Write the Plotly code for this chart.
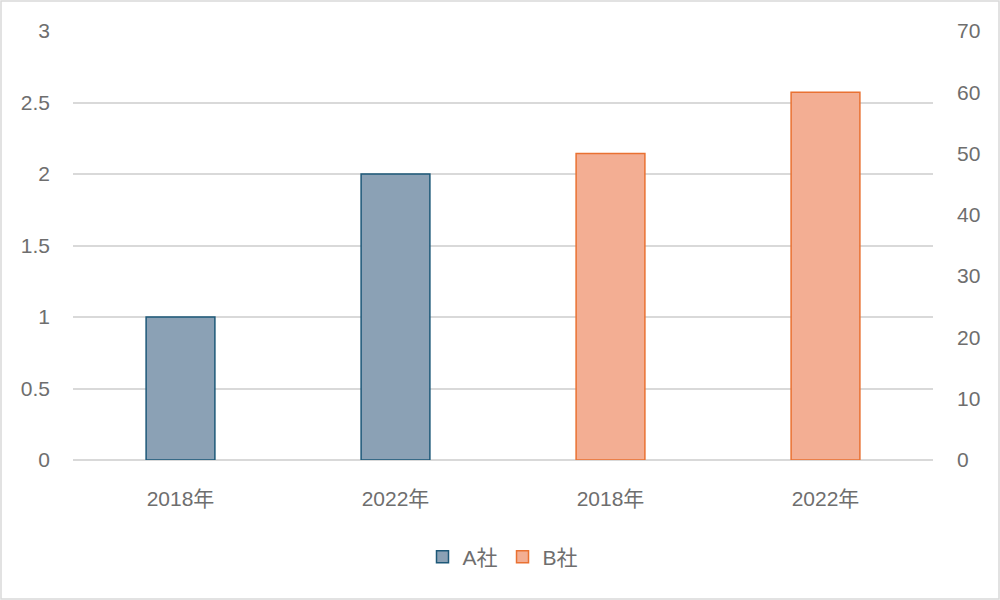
import plotly.graph_objects as go

categories = ["2018年", "2022年", "2018年", "2022年"]
a_values = [1, 2, None, None]
b_values = [None, None, 50, 60]
left_ticks = [0, 0.5, 1, 1.5, 2, 2.5, 3]
left_ticktext = ["0", "0.5", "1", "1.5", "2", "2.5", "3"]
right_ticks = [0, 10, 20, 30, 40, 50, 60, 70]

x_pos = list(range(len(categories)))
FONT = "'Liberation Sans', 'Noto Sans CJK JP', sans-serif"

fig = go.Figure()
fig.add_trace(go.Bar(
    x=x_pos, y=a_values, name="A社", width=0.32,
    marker=dict(color="#8ba1b5", line=dict(color="#1d5878", width=1.5)),
    yaxis="y", offsetgroup="g",
))
fig.add_trace(go.Bar(
    x=x_pos, y=b_values, name="B社", width=0.32,
    marker=dict(color="#f3ae93", line=dict(color="#e97132", width=1.5)),
    yaxis="y2", offsetgroup="g",
))

W, H = 1000, 600
l, r, t, b = 73, 67, 31, 140
pw, ph = W - l - r, H - t - b

fig.update_layout(
    width=W, height=H,
    margin=dict(l=l, r=r, t=t, b=b),
    paper_bgcolor="white", plot_bgcolor="white",
    barmode="overlay",
    font=dict(family=FONT, size=21, color="#6e6e6e"),
    xaxis=dict(
        tickmode="array", tickvals=x_pos, ticktext=categories,
        range=[-0.5, len(categories) - 0.5],
        showgrid=False, zeroline=False, showline=False,
        ticks="", ticklen=0, ticklabelstandoff=24,
    ),
    yaxis=dict(
        range=[0, 3], tickvals=left_ticks, ticktext=left_ticktext,
        showgrid=True, gridcolor="#d9d9d9", gridwidth=1.5,
        zeroline=True, zerolinecolor="#d9d9d9", zerolinewidth=1.5,
        showline=False, ticks="", ticklabelstandoff=22,
    ),
    yaxis2=dict(
        range=[0, 70], tickvals=right_ticks,
        overlaying="y", side="right",
        showgrid=False, zeroline=False, showline=False,
        ticks="", ticklabelstandoff=23,
    ),
    legend=dict(
        orientation="h", x=0.5, xanchor="center", y=-(557 - 460) / ph,
        yanchor="middle", font=dict(size=21, color="#6e6e6e"),
        traceorder="normal", itemwidth=30,
    ),
    shapes=[dict(
        type="rect", xref="paper", yref="paper",
        x0=-(l - 1) / pw, x1=1 + (r - 1) / pw,
        y0=-(b - 1) / ph, y1=1 + (t - 1) / ph,
        line=dict(color="#d9d9d9", width=1.5), fillcolor="rgba(0,0,0,0)",
        layer="below",
    )],
)

fig.write_html(
    "out.html",
    config={"displayModeBar": False},
    post_script="document.body.style.margin='0';document.body.style.padding='0';",
)
